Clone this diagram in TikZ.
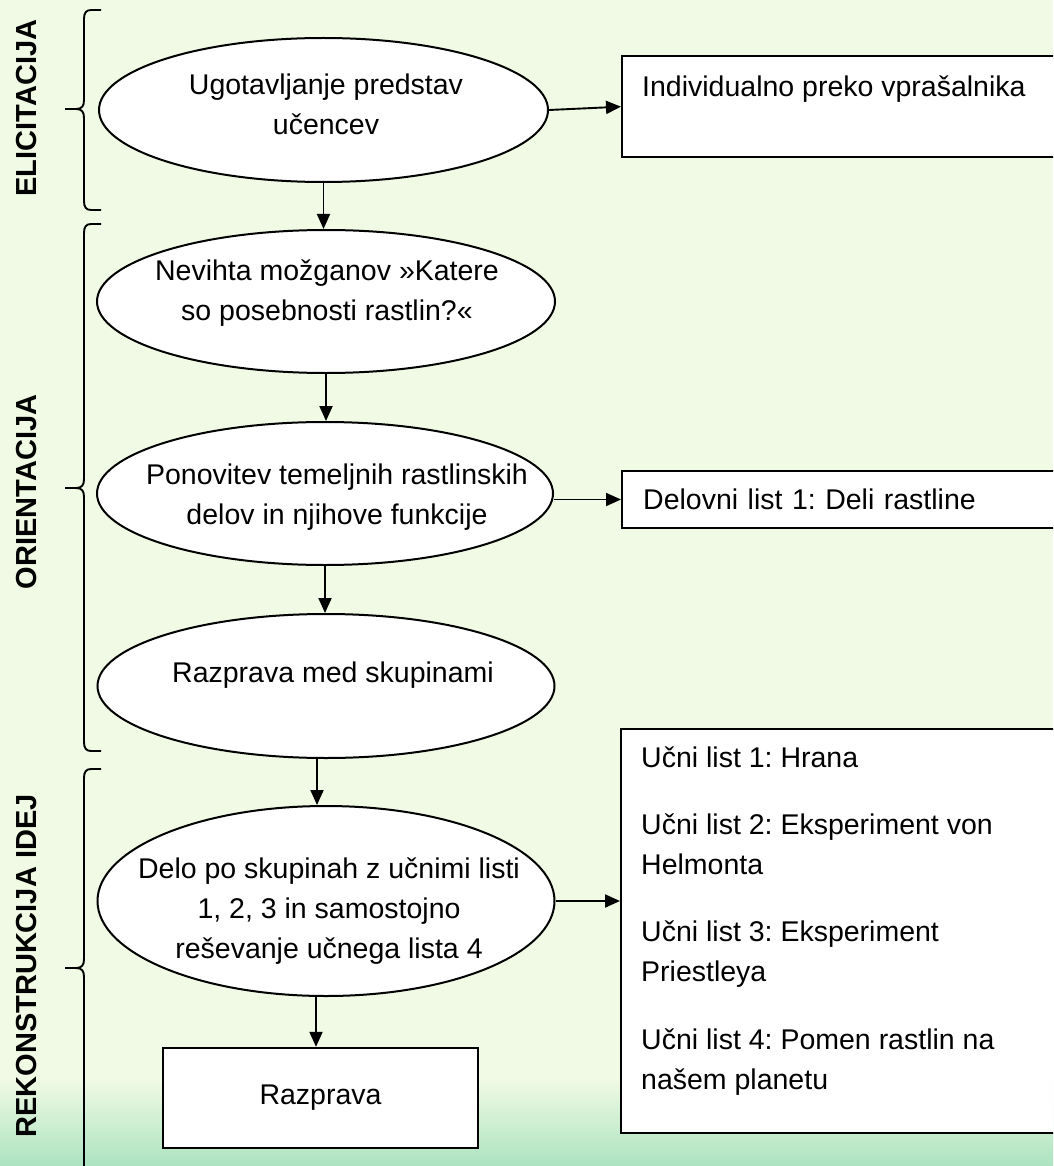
\documentclass[tikz,border=0pt]{standalone}
\usepackage{fontspec}
\setmainfont{Liberation Sans}
\usetikzlibrary{shapes.geometric,arrows.meta,calc}
\definecolor{bgc}{RGB}{240,250,228}
\definecolor{bgbot}{RGB}{172,227,192}
\frenchspacing
\begin{document}
\begin{tikzpicture}[x=1pt,y=-1pt,
 ell/.style={ellipse, draw, fill=white, line width=2pt, inner sep=0pt},
 txt/.style={font=\fontsize{28.5}{40}\selectfont, align=center, inner sep=0pt},
 boxn/.style={rectangle, draw, fill=white, line width=2.4pt, inner sep=0pt},
 arr/.style={line width=1.9pt, -{Triangle[length=15pt,width=13pt]}},
 brc/.style={line width=1.9pt},
 lab/.style={font=\fontsize{29}{34}\selectfont\bfseries, rotate=90, inner sep=0pt}]
\useasboundingbox (0,0) rectangle (1053,1166);
\clip (0,0) rectangle (1053,1166);
\fill[bgc] (0,0) rectangle (1053,1166);
\shade[top color=bgc, bottom color=bgbot] (0,1080) rectangle (1053,1166);

% braces
\foreach \yt/\ym/\yb in {10/109/210, 224/488/751, 769/968/1190} {
  \draw[brc] (101,\yt) -- (91,\yt) .. controls (86,\yt) and (84,{\yt+3}) .. (84,{\yt+9})
    -- (84,{\ym-9}) .. controls (84,{\ym-3}) and (82,\ym) .. (76,\ym) -- (65,\ym);
  \draw[brc] (76,\ym) .. controls (82,\ym) and (84,{\ym+3}) .. (84,{\ym+9})
    -- (84,{\yb-9}) .. controls (84,{\yb-3}) and (86,\yb) .. (91,\yb) -- (101,\yb);
}

% phase labels
\node[lab] (l1) at (27,108) {ELICITACIJA};
\node[lab] (l2) at (27,492) {ORIENTACIJA};
\node[lab] (l3) at (27,966) {REKONSTRUKCIJA IDEJ};

% ellipses
\node[ell, minimum width=449pt, minimum height=144pt] (e1) at (323.5,110) {};
\node[ell, minimum width=458pt, minimum height=143pt] (e2) at (326,301.5) {};
\node[ell, minimum width=456pt, minimum height=143pt] (e3) at (325,493.5) {};
\node[ell, minimum width=457pt, minimum height=144pt] (e4) at (326,686) {};
\node[ell, minimum width=457pt, minimum height=190pt] (e5) at (326,901) {};

\node[txt] (t1) at (326,104) {Ugotavljanje predstav\\učencev};
\node[txt] (t2) at (327,293) {Nevihta možganov »Katere\\so posebnosti rastlin?«};
\node[txt] (t3) at (337,497) {Ponovitev temeljnih rastlinskih\\delov in njihove funkcije};
\node[txt] (t4) at (333,675) {Razprava med skupinami};
\node[txt] (t5) at (329,911) {Delo po skupinah z učnimi listi\\1, 2, 3 in samostojno\\reševanje učnega lista 4};

% boxes
\node[boxn, anchor=north west, minimum width=450pt, minimum height=101pt] (b1) at (621,55) {};
\node[txt, anchor=west] (t6) at (642,89.5) {Individualno preko vprašalnika};
\node[boxn, anchor=west, minimum height=57pt, text width=408pt, inner xsep=21pt, align=left,
      font=\fontsize{28.5}{40}\selectfont] (b2) at (621,499.5) {Delovni list 1: Deli rastline};
\node[boxn, anchor=north west, minimum width=450pt, minimum height=404pt] (b3) at (620,728) {};
\node[txt, align=left, anchor=north west] (t8) at (641,747)
  {Učni list 1: Hrana\\[27pt]Učni list 2: Eksperiment von\\Helmonta\\[27pt]Učni list 3: Eksperiment\\Priestleya\\[28pt]Učni list 4: Pomen rastlin na\\našem planetu};
\node[boxn, minimum width=315pt, minimum height=100pt, font=\fontsize{28.5}{40}\selectfont] (r) at (320.5,1098) {Razprava};

% connectors
\draw[arr] (e1.south) -- (e1.south |- e2.north);
\draw[arr] (e2.south) -- (e2.south |- e3.north);
\draw[arr] (e3.south) -- (e3.south |- e4.north);
\draw[arr] ([xshift=-9pt]e4.south) -- ([xshift=-9pt]e4.south |- e5.north);
\draw[arr] ([xshift=-10pt]e5.south) -- ([xshift=-10pt]e5.south |- r.north);
\draw[arr] (e1.east) -- (b1.west);
\draw[arr] (e3.east |- b2.west) -- (b2.west);
\draw[arr] (e5.east) -- (e5.east -| b3.west);
\end{tikzpicture}
\end{document}
